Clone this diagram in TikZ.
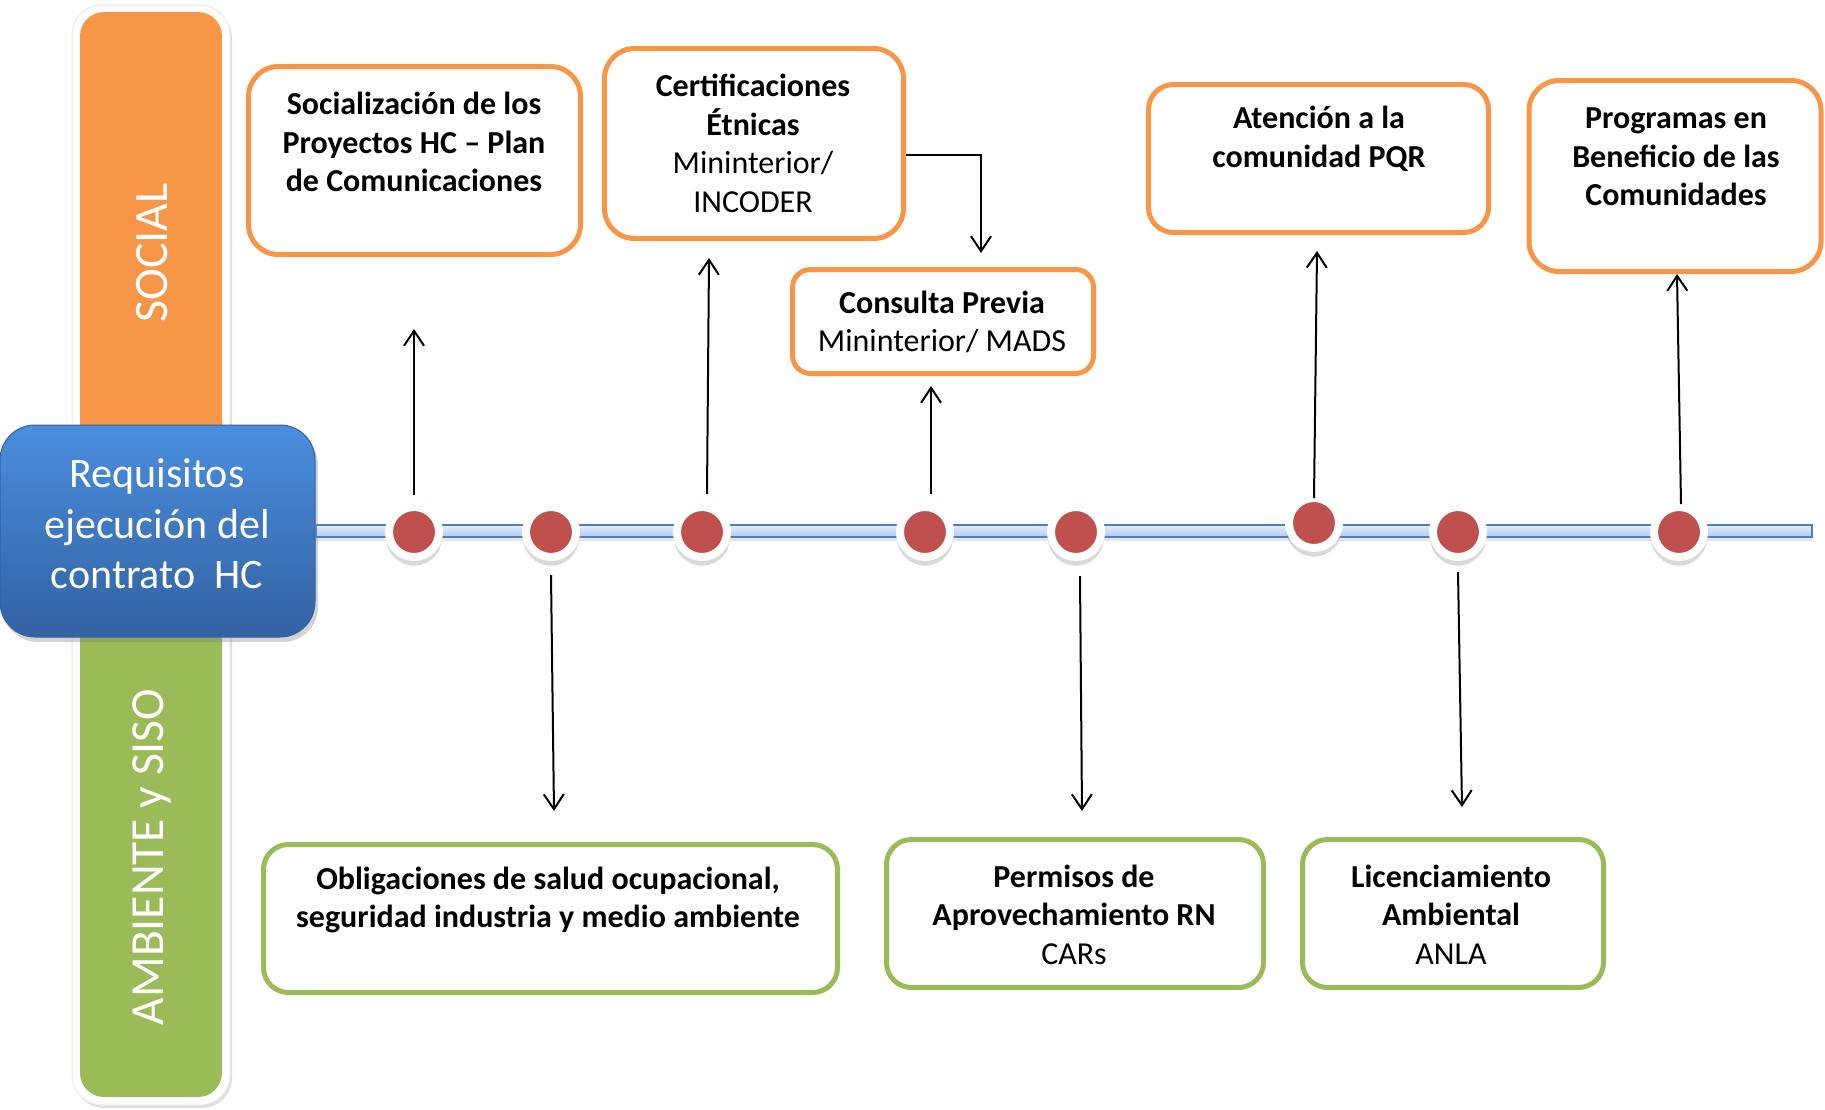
\documentclass[tikz,border=0pt]{standalone}
\usepackage{fontspec}
\setmainfont{Carlito}
\usetikzlibrary{arrows.meta,shadows}
\definecolor{orng}{RGB}{247,150,70}
\definecolor{grn}{RGB}{155,187,89}
\definecolor{dotred}{RGB}{192,80,77}
\definecolor{tlblue}{RGB}{79,129,189}
\definecolor{tltop}{RGB}{225,236,253}
\definecolor{tlbot}{RGB}{180,202,242}
\definecolor{reqtop}{RGB}{74,142,222}
\definecolor{reqbot}{RGB}{50,98,162}
\begin{document}
\begin{tikzpicture}[x=1pt,y=-1pt,
  obox/.style={draw=orng, line width=5pt, fill=white, rounded corners=#1, inner sep=0pt},
  obox/.default=30pt,
  gbox/.style={draw=grn, line width=5pt, fill=white, rounded corners=#1, inner sep=0pt},
  gbox/.default=25pt,
  btext/.style={align=center, inner sep=0pt, font=\fontsize{32}{38.5}\selectfont\bfseries},
  bandlabel/.style={text=white, inner sep=0pt, font=\fontsize{48}{56}\selectfont},
  reqbox/.style={minimum width=315pt, minimum height=212pt, rounded corners=35pt,
    top color=reqtop, bottom color=reqbot, draw=reqbot, line width=1pt, inner sep=0pt,
    drop shadow={opacity=0.35, shadow xshift=3pt, shadow yshift=-5pt}},
  reqtext/.style={text=white, align=center, inner sep=0pt,
    font=\fontsize{42}{50.6}\selectfont},
  dot/.style={circle, minimum size=50pt, inner sep=0pt, outer sep=4pt, fill=dotred,
    draw=white, line width=8pt,
    drop shadow={opacity=0.3, shadow xshift=0pt, shadow yshift=-5pt, shadow scale=1.12}},
  arr/.style={draw=black, line width=2pt, -{Straight Barb[length=15pt,width=20pt]}},
  tlbar/.style={draw=tlblue, line width=2pt, top color=tltop, bottom color=tlbot,
    drop shadow={opacity=0.2, shadow xshift=0pt, shadow yshift=-4pt}}
]
\useasboundingbox (0,0) rectangle (1825,1109);

% vertical bands
\path[fill=white, draw=black!8, line width=1pt, rounded corners=30pt,
  drop shadow={opacity=0.25, shadow xshift=2pt, shadow yshift=-3pt}] (72,5) rectangle (230,1105);
\fill[orng, rounded corners=24pt] (80,12) rectangle (222,560);
\fill[grn, rounded corners=24pt] (80,500) rectangle (222,1097);
\node[bandlabel, rotate=90] (soc) at (152,253) {SOCIAL};
\node[bandlabel, rotate=90, font=\fontsize{47.5}{56}\selectfont] (amb) at (152,857) {AMBIENTE y SISO};

% main box
\node[reqbox] (req) at (157.5,531) {};
\node[reqtext] (reqt) at (157,524) {Requisitos\\ejecución del\\contrato\ \ HC};

% timeline
\coordinate (tlend) at (1812,531);
\path[tlbar] ([yshift=6pt]req.east) rectangle ([yshift=-6pt]tlend);

% dots
\node[dot] (d1) at (414,532) {};
\node[dot] (d2) at (551,532) {};
\node[dot] (d3) at (702,532) {};
\node[dot] (d4) at (925,532) {};
\node[dot] (d5) at (1076,532) {};
\node[dot] (d6) at (1314,523) {};
\node[dot] (d7) at (1458,532) {};
\node[dot] (d8) at (1679,532) {};

% social boxes
\node[obox=30pt, minimum width=332pt, minimum height=188pt] (soc1) at (414.5,160.5) {};
\node[btext] (t1) at (414,142) {Socialización de los\\Proyectos HC – Plan\\de Comunicaciones};

\node[obox=30pt, minimum width=299pt, minimum height=190pt] (cert) at (754,143.5) {};
\node[btext] (t2) at (753,143.5) {Certificaciones\\Étnicas\\{\mdseries Mininterior/}\\{\mdseries INCODER}};

\node[obox=18pt, minimum width=301pt, minimum height=104pt] (cons) at (943,321.5) {};
\node[btext] (t3) at (942,322) {Consulta Previa\\{\mdseries Mininterior/ MADS}};

\node[obox=25pt, minimum width=340pt, minimum height=148pt] (aten) at (1318.5,158.5) {};
\node[btext] (t4) at (1319,139) {Atención a la\\comunidad PQR};

\node[obox=30pt, minimum width=292pt, minimum height=191pt] (prog) at (1675,176) {};
\node[btext] (t5) at (1676,157) {Programas en\\Beneficio de las\\Comunidades};

% environment boxes
\node[gbox=25pt, minimum width=574pt, minimum height=148pt] (oblig) at (550.5,918.5) {};
\node[btext] (t6) at (548,900) {Obligaciones de salud ocupacional,\\seguridad industria y medio ambiente};

\node[gbox=25pt, minimum width=377pt, minimum height=148pt] (perm) at (1075,913.5) {};
\node[btext] (t7) at (1074,914.5) {Permisos de\\Aprovechamiento RN\\{\mdseries CARs}};

\node[gbox=25pt, minimum width=301pt, minimum height=148pt] (lic) at (1453,913.5) {};
\node[btext] (t8) at (1451,914.5) {Licenciamiento\\Ambiental\\{\mdseries ANLA}};

% arrow ends
\coordinate (e1) at (414,329);
\coordinate (e2) at (554,811);
\coordinate (e3) at (709,258);
\coordinate (e4) at (931,386);
\coordinate (e5) at (1082,811);
\coordinate (e6) at (1317,251);
\coordinate (e7) at (1462,807);
\coordinate (e8) at (1677,274);
\coordinate (ecp) at (981,253);

\draw[arr] ([yshift=8pt]d1.north) -- (e1);
\draw[arr] ([yshift=-14pt]d2.south) -- (e2);
\draw[arr] ([xshift=5pt,yshift=9pt]d3.north) -- (e3);
\draw[arr] ([xshift=6pt,yshift=9pt]d4.north) -- (e4);
\draw[arr] ([xshift=4pt,yshift=-15pt]d5.south) -- (e5);
\draw[arr] ([yshift=-4pt]d6.north) -- (e6);
\draw[arr] ([yshift=-11pt]d7.south) -- (e7);
\draw[arr] ([xshift=2pt,yshift=-1pt]d8.north) -- (e8);
\draw[arr] ([yshift=-11.5pt]cert.east) -| (ecp);
\end{tikzpicture}
\end{document}
